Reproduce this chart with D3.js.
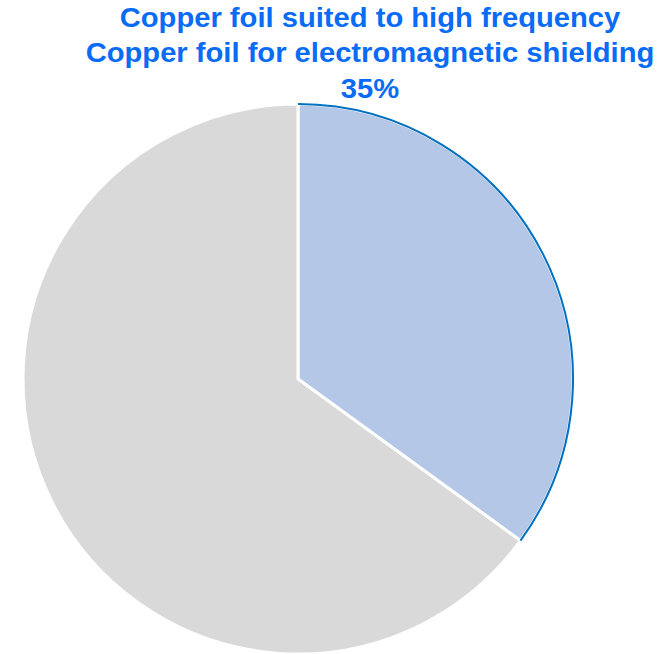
<!DOCTYPE html>
<html><head><meta charset="utf-8">
<script src="https://cdn.jsdelivr.net/npm/d3@7"></script>
<style>body{margin:0;background:#fff}svg{display:block}</style>
</head><body>
<svg id="c" width="661" height="654"></svg>
<script>
const categories = ["Copper foil suited to high frequency\nCopper foil for electromagnetic shielding", "Other"];
const values = [35, 65];
const colors = ["#B4C7E7", "#D9D9D9"];
const labelLines = ["Copper foil suited to high frequency", "Copper foil for electromagnetic shielding", "35%"];

const svg = d3.select("#c");
const cx = 298, cy = 379, r = 275;
const g = svg.append("g").attr("transform", `translate(${cx},${cy})`);
const pie = d3.pie().sort(null).value(d => d)(values);
const arc = d3.arc().innerRadius(0).outerRadius(r);
g.selectAll("path.s").data(pie).join("path").attr("class","s")
  .attr("d", arc).attr("fill", (d,i) => colors[i])
  .attr("stroke", "#fff").attr("stroke-width", 3).attr("stroke-linejoin","miter");
// blue outline on outer arc of highlighted slice
g.append("path").datum(pie[0])
  .attr("d", d => {
    const p = d3.path();
    p.arc(0,0,r,d.startAngle-Math.PI/2,d.endAngle-Math.PI/2);
    return p.toString();
  })
  .attr("fill","none").attr("stroke","#0070C0").attr("stroke-width",2);

const tx = 370;
const t = svg.append("text").attr("text-anchor","middle")
  .attr("transform", `translate(${tx},0) scale(1.042,1)`)
  .attr("font-family","'Liberation Sans', Arial, sans-serif").attr("font-weight","bold")
  .attr("font-size",28).attr("fill","#0A6CF5");
labelLines.forEach((s,i) => t.append("tspan").attr("x",0).attr("y",27+i*35.5).text(s));
</script>
</body></html>
